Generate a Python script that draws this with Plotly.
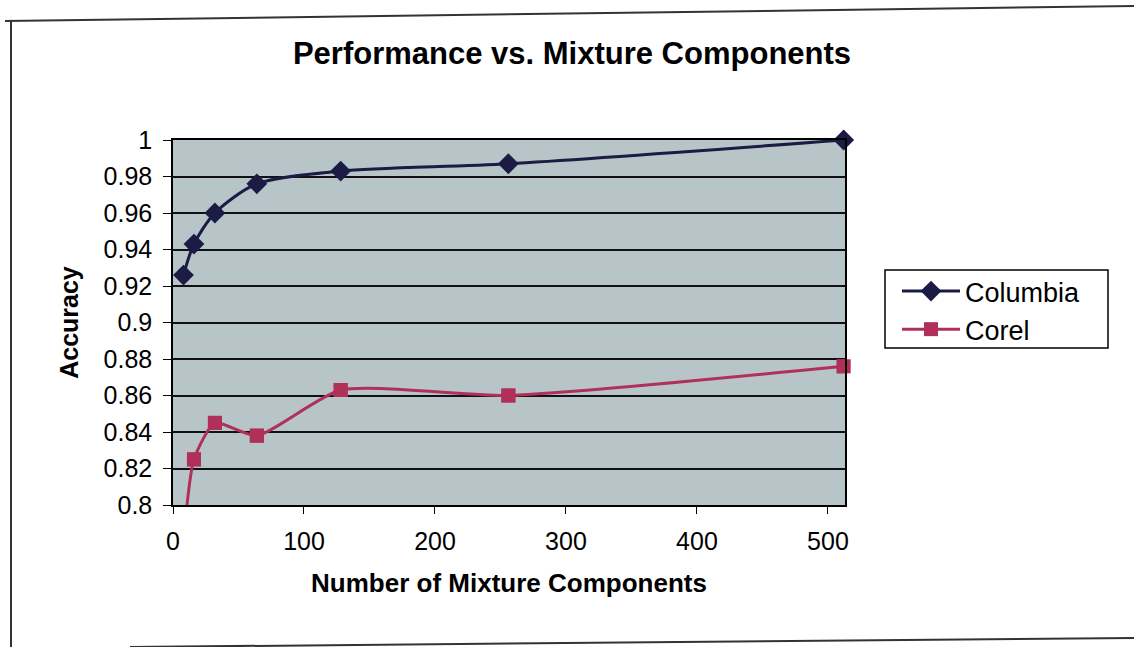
import plotly.graph_objects as go

# Number of mixture components tested
components = [8, 16, 32, 64, 128, 256, 512]

# Classification accuracy per dataset
columbia_acc = [0.926, 0.943, 0.960, 0.976, 0.983, 0.987, 1.000]
corel_acc = [0.780, 0.825, 0.845, 0.838, 0.863, 0.860, 0.876]

x_ticks = [0, 100, 200, 300, 400, 500]
y_ticks = [0.8, 0.82, 0.84, 0.86, 0.88, 0.9, 0.92, 0.94, 0.96, 0.98, 1]
y_ticktext = ["0.8", "0.82", "0.84", "0.86", "0.88", "0.9",
              "0.92", "0.94", "0.96", "0.98", "1"]

W, H = 1134, 647
L, R, T, B = 173, 845, 140, 505
Y_MIN, Y_MAX = 0.8, 1.0

FONT = "Liberation Sans, Arial, sans-serif"
NAVY = "#1b1b45"
CRIMSON = "#b0305a"


def px(x, y):
    """Pixel position -> paper coordinates of the plot area."""
    return (x - L) / (R - L), (B - y) / (B - T)


fig = go.Figure()

fig.add_trace(go.Scatter(
    x=components, y=columbia_acc, name="Columbia",
    mode="lines+markers",
    line=dict(color=NAVY, width=3, shape="spline", smoothing=0.8),
    marker=dict(symbol="diamond", size=16, color=NAVY),
    cliponaxis=False,
))

fig.add_trace(go.Scatter(
    x=components, y=corel_acc, name="Corel",
    mode="lines+markers",
    line=dict(color=CRIMSON, width=3, shape="spline", smoothing=0.6),
    marker=dict(symbol="square", size=14, color=CRIMSON),
    cliponaxis=True,
))

# Corel markers inside the value range, drawn unclipped at the plot edge
in_range = [(c, a) for c, a in zip(components, corel_acc) if a >= Y_MIN]
fig.add_trace(go.Scatter(
    x=[c for c, _ in in_range], y=[a for _, a in in_range],
    mode="markers", showlegend=False, hoverinfo="skip",
    marker=dict(symbol="square", size=14, color=CRIMSON),
    cliponaxis=False,
))

shapes = []

# Outer chart frame
for (x0, y0, x1, y1) in [(5, 21, 1134, 6), (11, 21, 11, 647), (130, 647, 1134, 638)]:
    a0, b0 = px(x0, y0)
    a1, b1 = px(x1, y1)
    shapes.append(dict(type="line", xref="paper", yref="paper",
                       x0=a0, y0=b0, x1=a1, y1=b1,
                       line=dict(color="#333333", width=2)))

# Legend box
lx0, ly0 = px(885, 348)
lx1, ly1 = px(1108, 270)
shapes.append(dict(type="rect", xref="paper", yref="paper", layer="below",
                   x0=lx0, y0=ly0, x1=lx1, y1=ly1,
                   fillcolor="white", line=dict(color="black", width=1.5)))

fig.update_layout(
    width=W, height=H,
    margin=dict(l=L, r=W - R, t=T, b=H - B),
    paper_bgcolor="white",
    plot_bgcolor="#b7c5c9",
    font=dict(family=FONT, size=26, color="black"),
    title=dict(text="<b>Performance vs. Mixture Components</b>",
               x=572 / W, xanchor="center", y=1 - 53 / H, yanchor="middle",
               font=dict(family=FONT, size=31, color="black")),
    xaxis=dict(
        range=[0, 513], tickvals=x_ticks, ticktext=[str(v) for v in x_ticks],
        showgrid=False, zeroline=False,
        showline=True, linecolor="black", linewidth=1.5, mirror=True,
        ticks="outside", ticklen=7, tickcolor="black",
        tickfont=dict(size=25), ticklabelstandoff=6,
        title=dict(text="<b>Number of Mixture Components</b>",
                   font=dict(size=26), standoff=20),
    ),
    yaxis=dict(
        range=[Y_MIN, Y_MAX], tickvals=y_ticks, ticktext=y_ticktext,
        showgrid=True, gridcolor="#111111", gridwidth=1.8,
        zeroline=False,
        showline=True, linecolor="black", linewidth=1.5, mirror=True,
        ticks="outside", ticklen=8, tickcolor="black",
        tickfont=dict(size=25), ticklabelstandoff=6,
        title=dict(text="<b>Accuracy</b>", font=dict(size=25), standoff=18),
    ),
    legend=dict(
        x=(897 - L) / (R - L), y=(B - 267) / (B - T),
        xanchor="left", yanchor="top",
        bgcolor="rgba(0,0,0,0)", borderwidth=0,
        font=dict(size=27), itemwidth=58, tracegroupgap=0,
    ),
    shapes=shapes,
)

fig.write_html("out.html")
